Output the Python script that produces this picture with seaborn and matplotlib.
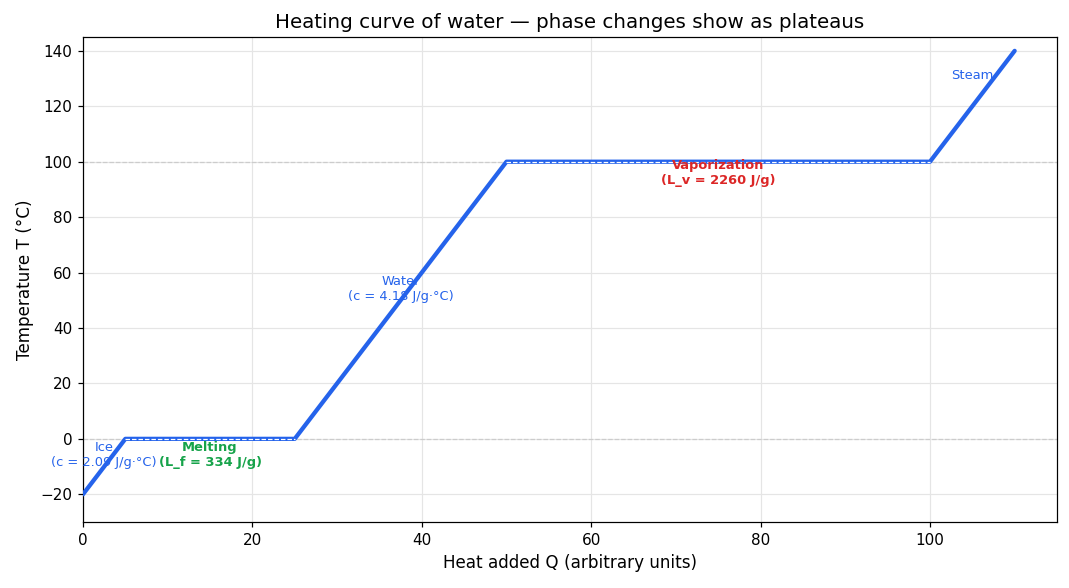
import matplotlib
matplotlib.use("Agg")
import matplotlib.pyplot as plt
import seaborn as sns
import pandas as pd

# Data
heat_q = [0, 5, 25, 50, 100, 110]
temp_t = [-20, 0, 0, 100, 100, 140]
plateau_melt_q = [5, 25]
plateau_melt_t = [0, 0]
plateau_vap_q = [50, 100]
plateau_vap_t = [100, 100]

labels = ["Ice\n(c = 2.09 J/g·°C)", "Melting\n(L_f = 334 J/g)", "Water\n(c = 4.18 J/g·°C)",
          "Vaporization\n(L_v = 2260 J/g)", "Steam"]
label_q = [2.5, 15, 37.5, 75, 105]
label_t = [-6, -6, 54, 96, 131]

BLUE = "#2563eb"
GREEN = "#16a34a"
RED = "#dc2626"
label_colors = [BLUE, GREEN, BLUE, RED, BLUE]
label_weights = ["normal", "bold", "normal", "bold", "normal"]

sns.set_style("white")
plt.rcParams['font.family'] = ['DejaVu Sans']
plt.rcParams['text.color'] = 'black'
plt.rcParams['axes.labelcolor'] = 'black'
plt.rcParams['xtick.color'] = 'black'
plt.rcParams['ytick.color'] = 'black'

fig, ax = plt.subplots(figsize=(1069/110, 588/110), dpi=110)

ax.axhline(0, color="#cccccc", linestyle="--", linewidth=0.8, zorder=1)
ax.axhline(100, color="#cccccc", linestyle="--", linewidth=0.8, zorder=1)

df = pd.DataFrame({"Q": heat_q, "T": temp_t})
sns.lineplot(data=df, x="Q", y="T", ax=ax, color=BLUE, linewidth=2.8, zorder=3)

for qs, ts in [(plateau_melt_q, plateau_melt_t), (plateau_vap_q, plateau_vap_t)]:
    ax.plot(qs, ts, color="white", linestyle="--", linewidth=0.8, zorder=4)

for txt, q, t, c, w in zip(labels, label_q, label_t, label_colors, label_weights):
    ax.text(q, t, txt, color=c, fontweight=w, fontsize=8.5, ha="center", va="center", zorder=5)

ax.set_xlim(0, 115)
ax.set_ylim(-30, 145)
ax.grid(True, color="#e5e5e5", linewidth=0.8)
ax.set_axisbelow(True)
for s in ax.spines.values():
    s.set_color("black")
    s.set_linewidth(0.8)
ax.tick_params(axis="both", which="both", length=3.5, width=0.8, color="black", labelcolor="black",
               labelsize=10, bottom=True, left=True)
ax.set_xlabel("Heat added Q (arbitrary units)", fontsize=11, color="black")
ax.set_ylabel("Temperature T (°C)", fontsize=11, color="black")
ax.set_title("Heating curve of water — phase changes show as plateaus", fontsize=13, color="black")

fig.subplots_adjust(left=83/1069, right=1057/1069, top=1-37/588, bottom=1-522/588)
fig.savefig("out.png", dpi=110)
